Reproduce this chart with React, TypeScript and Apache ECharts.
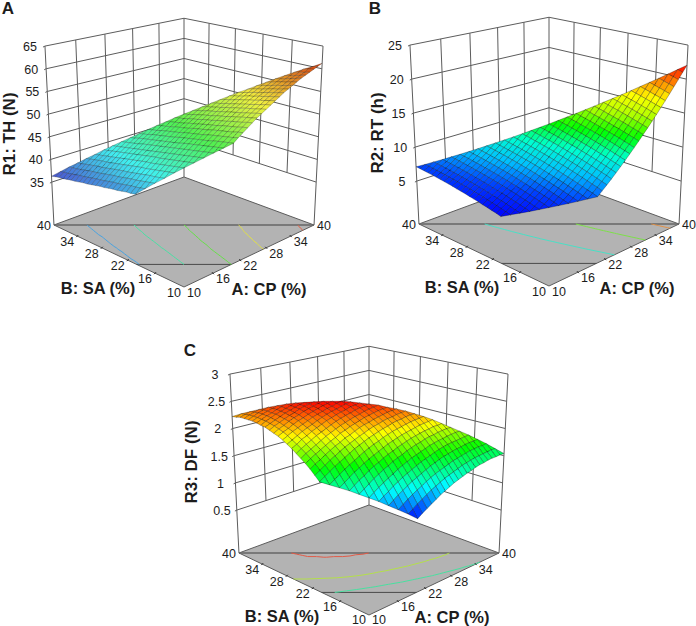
import React, { useEffect, useRef } from "react";
import * as echarts from "echarts";

const gridStep = 1;
const sideTicks = [10, 16, 22, 28, 34, 40];
const thTicks = [35, 40, 45, 50, 55, 60, 65];
const rtTicks = [5, 10, 15, 20, 25];
const dfTicks = [0.5, 1, 1.5, 2, 2.5, 3];
const thLevels = [40, 45, 50, 55, 60];
const rtLevels = [10, 15, 20];
const dfLevels = [1.5, 2, 2.45];
const vividPalette = ["#0000ff", "#00ffff", "#00ff00", "#ffff00", "#ff0000"];
const mutedPalette = ["#4a50d0", "#40f0f0", "#50f050", "#f0f040", "#d84010"];
const rtPalette = ["#0000ff", "#0040ff", "#00c0ff", "#00ffd0", "#00ff00", "#aaff00", "#ffff00", "#ff8000", "#ff0000"];

// each row: B fixed (10,11,...,40), A runs from max(10, 30-B) to 50-B
const thRows = [
  [50.0,50.8,51.5,52.2,52.9,53.6,54.2,54.8,55.4,56.0,56.6,57.2,57.7,58.2,58.7,59.2,59.6,60.0,60.4,60.8,61.2],
  [49.0,49.8,50.5,51.3,52.0,52.7,53.3,54.0,54.6,55.2,55.8,56.3,56.9,57.4,57.9,58.4,58.9,59.3,59.7,60.2,60.5],
  [48.0,48.8,49.6,50.3,51.0,51.7,52.4,53.1,53.7,54.3,54.9,55.5,56.1,56.6,57.1,57.6,58.1,58.6,59.0,59.5,59.9],
  [47.0,47.8,48.6,49.4,50.1,50.8,51.5,52.2,52.9,53.5,54.1,54.7,55.3,55.8,56.4,56.9,57.4,57.9,58.3,58.7,59.2],
  [46.0,46.8,47.6,48.4,49.2,49.9,50.6,51.3,52.0,52.6,53.2,53.9,54.4,55.0,55.6,56.1,56.6,57.1,57.6,58.0,58.5],
  [45.0,45.8,46.6,47.4,48.2,48.9,49.7,50.4,51.1,51.7,52.4,53.0,53.6,54.2,54.8,55.3,55.8,56.3,56.8,57.3,57.8],
  [44.0,44.8,45.6,46.4,47.2,48.0,48.7,49.5,50.2,50.8,51.5,52.1,52.8,53.4,53.9,54.5,55.1,55.6,56.1,56.6,57.0],
  [42.9,43.8,44.6,45.4,46.2,47.0,47.8,48.5,49.2,49.9,50.6,51.3,51.9,52.5,53.1,53.7,54.3,54.8,55.3,55.8,56.3],
  [41.9,42.7,43.6,44.4,45.2,46.0,46.8,47.6,48.3,49.0,49.7,50.4,51.0,51.7,52.3,52.9,53.4,54.0,54.5,55.0,55.5],
  [40.8,41.7,42.5,43.4,44.2,45.0,45.8,46.6,47.4,48.1,48.8,49.5,50.2,50.8,51.4,52.0,52.6,53.2,53.7,54.3,54.8],
  [39.7,40.6,41.5,42.4,43.2,44.0,44.8,45.6,46.4,47.1,47.9,48.6,49.3,49.9,50.6,51.2,51.8,52.4,52.9,53.5,54.0],
  [39.5,40.4,41.3,42.2,43.0,43.8,44.6,45.4,46.2,46.9,47.7,48.4,49.0,49.7,50.3,51.0,51.6,52.1,52.7,53.2],
  [39.4,40.3,41.1,42.0,42.8,43.6,44.5,45.2,46.0,46.7,47.4,48.1,48.8,49.5,50.1,50.7,51.3,51.9,52.4],
  [39.2,40.1,41.0,41.8,42.7,43.5,44.3,45.0,45.8,46.5,47.2,47.9,48.6,49.2,49.9,50.5,51.1,51.6],
  [39.0,39.9,40.8,41.6,42.5,43.3,44.1,44.8,45.6,46.3,47.0,47.7,48.4,49.0,49.6,50.2,50.8],
  [38.9,39.7,40.6,41.4,42.3,43.1,43.9,44.6,45.4,46.1,46.8,47.5,48.1,48.8,49.4,50.0],
  [38.7,39.6,40.4,41.3,42.1,42.9,43.7,44.4,45.2,45.9,46.6,47.3,47.9,48.6,49.2],
  [38.5,39.4,40.3,41.1,41.9,42.7,43.5,44.2,45.0,45.7,46.4,47.0,47.7,48.3],
  [38.4,39.2,40.1,40.9,41.7,42.5,43.3,44.0,44.7,45.5,46.1,46.8,47.5],
  [38.2,39.0,39.9,40.7,41.5,42.3,43.1,43.8,44.5,45.3,45.9,46.6],
  [38.0,38.9,39.7,40.5,41.3,42.1,42.9,43.6,44.3,45.0,45.7],
  [37.8,38.7,39.5,40.3,41.1,41.9,42.7,43.4,44.1,44.8],
  [37.7,38.5,39.4,40.2,41.0,41.7,42.5,43.2,43.9],
  [37.5,38.3,39.2,40.0,40.8,41.5,42.3,43.0],
  [37.3,38.2,39.0,39.8,40.6,41.3,42.1],
  [37.2,38.0,38.8,39.6,40.4,41.1],
  [37.0,37.8,38.6,39.4,40.2],
  [36.8,37.6,38.5,39.2],
  [36.7,37.5,38.3],
  [36.5,37.3],
  [36.3],
];
const rtRows = [
  [7.66,8.21,8.77,9.35,9.95,10.57,11.21,11.87,12.53,13.23,13.94,14.67,15.42,16.17,16.96,17.76,18.58,19.42,20.27,21.15,22.04],
  [7.36,7.89,8.43,8.99,9.58,10.18,10.8,11.44,12.1,12.77,13.47,14.18,14.9,15.65,16.41,17.2,18.0,18.82,19.66,20.52,21.4],
  [7.04,7.55,8.08,8.64,9.2,9.79,10.39,11.01,11.65,12.31,12.98,13.68,14.4,15.13,15.88,16.64,17.43,18.23,19.05,19.89,20.75],
  [6.75,7.26,7.77,8.3,8.85,9.41,10.0,10.61,11.23,11.87,12.53,13.21,13.91,14.62,15.35,16.1,16.87,17.66,18.46,19.28,20.12],
  [6.47,6.95,7.45,7.97,8.5,9.05,9.62,10.21,10.82,11.44,12.08,12.75,13.42,14.13,14.84,15.57,16.33,17.09,17.89,18.69,19.51],
  [6.2,6.67,7.14,7.65,8.16,8.7,9.25,9.82,10.41,11.02,11.64,12.29,12.95,13.63,14.33,15.05,15.78,16.54,17.3,18.1,18.9],
  [5.94,6.39,6.86,7.33,7.84,8.35,8.89,9.45,10.01,10.61,11.21,11.84,12.49,13.15,13.83,14.53,15.25,15.99,16.74,17.51,18.3],
  [5.68,6.11,6.56,7.03,7.51,8.01,8.53,9.07,9.63,10.2,10.79,11.4,12.03,12.68,13.35,14.03,14.73,15.45,16.19,16.95,17.71],
  [5.45,5.86,6.29,6.74,7.21,7.69,8.2,8.72,9.26,9.81,10.38,10.98,11.59,12.22,12.87,13.54,14.22,14.93,15.65,16.38,17.14],
  [5.22,5.61,6.02,6.45,6.9,7.37,7.85,8.36,8.88,9.43,9.99,10.56,11.16,11.77,12.4,13.05,13.72,14.4,15.11,15.84,16.58],
  [5.0,5.38,5.77,6.19,6.62,7.07,7.54,8.02,8.54,9.06,9.6,10.16,10.73,11.34,11.95,12.58,13.23,13.9,14.59,15.3,16.02],
  [5.17,5.55,5.94,6.35,6.79,7.24,7.71,8.2,8.71,9.23,9.78,10.34,10.91,11.51,12.13,12.76,13.41,14.09,14.77,15.48],
  [5.31,5.69,6.09,6.5,6.93,7.39,7.86,8.35,8.87,9.39,9.94,10.5,11.08,11.68,12.3,12.93,13.59,14.26,14.95],
  [5.45,5.83,6.23,6.65,7.08,7.54,8.02,8.5,9.02,9.55,10.09,10.65,11.23,11.84,12.45,13.09,13.75,14.42],
  [5.58,5.97,6.37,6.78,7.22,7.68,8.16,8.65,9.16,9.69,10.24,10.81,11.39,11.99,12.61,13.25,13.91],
  [5.72,6.11,6.5,6.92,7.36,7.82,8.3,8.79,9.31,9.84,10.38,10.95,11.53,12.14,12.76,13.4],
  [5.85,6.24,6.64,7.06,7.5,7.96,8.44,8.93,9.45,9.98,10.53,11.1,11.68,12.29,12.91],
  [5.96,6.35,6.75,7.18,7.62,8.08,8.56,9.06,9.58,10.11,10.66,11.23,11.82,12.43],
  [6.09,6.48,6.88,7.3,7.75,8.21,8.69,9.19,9.71,10.24,10.79,11.37,11.95],
  [6.19,6.58,6.99,7.41,7.86,8.32,8.8,9.3,9.83,10.36,10.91,11.49],
  [6.3,6.69,7.1,7.53,7.97,8.44,8.93,9.42,9.95,10.48,11.04],
  [6.42,6.81,7.22,7.65,8.09,8.56,9.05,9.54,10.07,10.61],
  [6.51,6.9,7.31,7.74,8.19,8.66,9.15,9.65,10.18],
  [6.6,6.99,7.41,7.84,8.29,8.76,9.25,9.75],
  [6.68,7.08,7.49,7.93,8.38,8.85,9.34],
  [6.77,7.17,7.58,8.01,8.47,8.94],
  [6.85,7.25,7.67,8.1,8.56],
  [6.91,7.32,7.73,8.17],
  [6.98,7.39,7.81],
  [7.05,7.44],
  [7.1],
];
const dfRows = [
  [0.95,1.01,1.06,1.11,1.16,1.21,1.25,1.29,1.33,1.36,1.39,1.42,1.44,1.47,1.49,1.5,1.52,1.53,1.53,1.54,1.54],
  [1.03,1.08,1.14,1.19,1.24,1.29,1.33,1.37,1.41,1.44,1.47,1.5,1.53,1.55,1.57,1.59,1.6,1.61,1.62,1.63,1.63],
  [1.1,1.16,1.22,1.27,1.32,1.36,1.41,1.45,1.49,1.52,1.55,1.58,1.61,1.63,1.65,1.67,1.69,1.7,1.71,1.71,1.72],
  [1.17,1.23,1.29,1.34,1.39,1.44,1.48,1.52,1.56,1.6,1.63,1.66,1.69,1.71,1.73,1.75,1.76,1.78,1.79,1.79,1.8],
  [1.24,1.3,1.35,1.41,1.46,1.51,1.55,1.59,1.63,1.67,1.7,1.73,1.76,1.79,1.81,1.83,1.84,1.85,1.86,1.87,1.88],
  [1.3,1.36,1.42,1.47,1.52,1.57,1.62,1.66,1.7,1.74,1.77,1.8,1.83,1.86,1.88,1.9,1.91,1.93,1.94,1.95,1.95],
  [1.36,1.42,1.48,1.54,1.59,1.64,1.68,1.73,1.77,1.8,1.84,1.87,1.9,1.92,1.95,1.97,1.98,2.0,2.01,2.02,2.02],
  [1.42,1.48,1.54,1.59,1.65,1.7,1.74,1.79,1.83,1.86,1.9,1.93,1.96,1.99,2.01,2.03,2.05,2.06,2.08,2.08,2.09],
  [1.47,1.53,1.59,1.65,1.7,1.75,1.8,1.84,1.88,1.92,1.96,1.99,2.02,2.05,2.07,2.09,2.11,2.13,2.14,2.15,2.16],
  [1.52,1.58,1.64,1.7,1.75,1.8,1.85,1.9,1.94,1.98,2.01,2.05,2.08,2.11,2.13,2.15,2.17,2.19,2.2,2.21,2.22],
  [1.57,1.63,1.69,1.75,1.8,1.85,1.9,1.95,1.99,2.03,2.07,2.1,2.13,2.16,2.18,2.21,2.23,2.24,2.26,2.27,2.27],
  [1.65,1.71,1.77,1.83,1.88,1.93,1.98,2.02,2.06,2.1,2.13,2.17,2.2,2.22,2.25,2.27,2.28,2.3,2.31,2.32],
  [1.73,1.79,1.84,1.9,1.95,2.0,2.04,2.09,2.12,2.16,2.2,2.23,2.25,2.28,2.3,2.32,2.34,2.35,2.36],
  [1.8,1.86,1.91,1.96,2.01,2.06,2.1,2.15,2.18,2.22,2.25,2.28,2.31,2.33,2.35,2.37,2.38,2.39],
  [1.86,1.92,1.97,2.02,2.07,2.12,2.16,2.2,2.24,2.27,2.3,2.33,2.35,2.38,2.4,2.41,2.43],
  [1.92,1.98,2.03,2.08,2.13,2.17,2.21,2.25,2.29,2.32,2.35,2.37,2.4,2.42,2.44,2.45],
  [1.98,2.03,2.09,2.13,2.18,2.22,2.26,2.3,2.33,2.36,2.39,2.41,2.44,2.45,2.47],
  [2.03,2.08,2.13,2.18,2.22,2.26,2.3,2.34,2.37,2.4,2.42,2.45,2.47,2.49],
  [2.08,2.13,2.18,2.22,2.26,2.3,2.34,2.37,2.4,2.43,2.45,2.48,2.5],
  [2.12,2.17,2.21,2.26,2.3,2.33,2.37,2.4,2.43,2.46,2.48,2.5],
  [2.15,2.2,2.24,2.29,2.33,2.36,2.4,2.43,2.45,2.48,2.5],
  [2.18,2.23,2.27,2.31,2.35,2.38,2.42,2.45,2.47,2.49],
  [2.21,2.25,2.29,2.33,2.37,2.4,2.43,2.46,2.48],
  [2.22,2.27,2.31,2.35,2.38,2.41,2.44,2.47],
  [2.24,2.28,2.32,2.35,2.39,2.42,2.45],
  [2.25,2.29,2.33,2.36,2.39,2.42],
  [2.25,2.29,2.33,2.36,2.39],
  [2.25,2.29,2.32,2.35],
  [2.25,2.28,2.31],
  [2.23,2.27],
  [2.22],
];

const font = "Liberation Sans, Arial, sans-serif";

type Panel = {
  letter: string; lx: number; ly: number; cx: number; oy: number; rows: number[][]; ticks: number[];
  levels: number[]; title: string; palette: string[]; titleX: number; bX: number; aX: number; frontDy: number; mesh: string;
};

const panels: Panel[] = [
  { letter: "A", lx: 8, ly: 8, cx: 184, oy: 0, rows: thRows, ticks: thTicks, levels: thLevels, title: "R1: TH (N)", palette: mutedPalette, titleX: -175, bX: -86, aX: 85, frontDy: 6, mesh: "rgba(0,0,0,0.42)" },
  { letter: "B", lx: 375, ly: 8, cx: 549, oy: -1, rows: rtRows, ticks: rtTicks, levels: rtLevels, title: "R2: RT (h)", palette: rtPalette, titleX: -172, bX: -87, aX: 88, frontDy: 6, mesh: "rgba(0,0,0,0.55)" },
  { letter: "C", lx: 190, ly: 350, cx: 369, oy: 328, rows: dfRows, ticks: dfTicks, levels: dfLevels, title: "R3: DF (N)", palette: vividPalette, titleX: -178, bX: -87, aX: 83, frontDy: 4.5, mesh: "rgba(0,0,0,0.55)" },
];

function val(p: Panel, A: number, B: number): number | undefined {
  const r = p.rows[(B - 10) / gridStep];
  if (!r) return undefined;
  const start = Math.max(10, 30 - B);
  return r[(A - start) / gridStep];
}

function project(p: Panel, A: number, B: number, w: number): [number, number] {
  const a = (A - 10) / 30, b = (B - 10) / 30, s = a + b;
  const d = 1 + 0.1458 * s;
  return [p.cx + (149 * (a - b)) / (d - 0.074 * w), p.oy + (287 - 29.2 * s) / d - (205 * w) / d];
}

function wOf(p: Panel, z: number) {
  const lo = p.ticks[0], hi = p.ticks[p.ticks.length - 1];
  return 0.24 + ((z - lo) / (hi - lo)) * 0.76;
}

function extent(p: Panel) {
  const all = p.rows.flat();
  return [Math.min(...all), Math.max(...all)];
}

function line(a: number[], b: number[], stroke: string, lineWidth: number) {
  return { type: "line", silent: true, shape: { x1: a[0], y1: a[1], x2: b[0], y2: b[1] }, style: { stroke, lineWidth } };
}
function text(t: string, x: number, y: number, fnt: string, extra: any = {}) {
  return {
    type: "text", silent: true, x, y, ...extra,
    style: { text: t, font: fnt, fill: "#1c1c1c", align: "center", verticalAlign: "middle", textAlign: "center", textVerticalAlign: "middle" },
  };
}

function contourSegs(p: Panel, rawLevel: number) {
  const level = rawLevel + 0.0007;
  const segs: number[][][] = [];
  const tri = (pts: number[][]) => {
    const hit: number[][] = [];
    for (let i = 0; i < 3; i++) {
      const q = pts[i], r = pts[(i + 1) % 3];
      if ((q[2] - level) * (r[2] - level) < 0) {
        const t = (level - q[2]) / (r[2] - q[2]);
        hit.push([q[0] + t * (r[0] - q[0]), q[1] + t * (r[1] - q[1])]);
      }
    }
    if (hit.length === 2) segs.push(hit);
  };
  for (let B = 10; B < 40; B += gridStep)
    for (let A = 10; A < 40; A += gridStep) {
      const c = [[A, B], [A + gridStep, B], [A + gridStep, B + gridStep], [A, B + gridStep]]
        .map(([x, y]) => [x, y, val(p, x, y) as number]);
      const ok = c.map((q) => q[2] !== undefined);
      if (ok[1] && ok[3]) {
        if (ok[0]) tri([c[0], c[1], c[3]]);
        if (ok[2]) tri([c[1], c[2], c[3]]);
      }
    }
  return segs;
}

function frame(p: Panel) {
  const els: any[] = [];
  const grid = "#5c5c5c";
  const lo = p.ticks[0];
  const hi = p.ticks[p.ticks.length - 1];
  const P = (A: number, B: number, z: number) => project(p, A, B, wOf(p, z));
  const F = (A: number, B: number) => project(p, A, B, 0);
  els.push({ type: "polygon", silent: true, shape: { points: [F(10, 10), F(40, 10), F(40, 40), F(10, 40)] }, style: { fill: "#b3b3b3", stroke: grid, lineWidth: 1 } });
  for (const z of p.ticks) {
    els.push({ type: "polyline", silent: true, shape: { points: [P(10, 40, z), P(40, 40, z), P(40, 10, z)] }, style: { fill: "none", stroke: grid, lineWidth: 1 } });
    const t = P(10, 40, z);
    els.push(line([t[0] - 2, t[1] + 1], t, grid, 1));
    els.push(text(String(z), t[0] - 15, t[1] + 1, `12.5px ${font}`));
  }
  for (const v of sideTicks.slice(1, -1)) {
    els.push(line(P(v, 40, lo), P(v, 40, hi), grid, 1));
    els.push(line(P(40, v, lo), P(40, v, hi), grid, 1));
  }
  els.push(line(F(10, 40), P(10, 40, hi), grid, 1));
  els.push(line(F(40, 40), P(40, 40, hi), grid, 1));
  els.push(line(F(40, 10), P(40, 10, hi), grid, 1));
  els.push(line(F(10, 40), F(40, 10), "#666666", 1.5));
  els.push(line(F(20, 10), F(10, 20), "#4a4a4a", 1));
  const [mn, mx] = extent(p);
  p.levels.forEach((lv) => {
    const c = echarts.color.lerp((lv - mn) / (mx - mn), vividPalette);
    const col = echarts.color.lerp(0.4, [c, "#b3b3b3"]);
    for (const s of contourSegs(p, lv)) {
      els.push(line(F(s[0][0], s[0][1]), F(s[1][0], s[1][1]), col, 1));
    }
  });
  for (const v of sideTicks) {
    const b = F(10, v), a = F(v, 10);
    if (v > 10 && v < 40) {
      els.push(line([b[0] - 1, b[1] + 1], [b[0] + 1, b[1] - 1], "#222", 1));
      els.push(line([a[0] - 1, a[1] - 1], [a[0] + 1, a[1] + 1], "#222", 1));
    }
    const dy = v === 40 ? 1 : v === 10 ? p.frontDy : 6;
    els.push(text(String(v), b[0] - 10, b[1] + dy, `12.5px ${font}`));
    els.push(text(String(v), a[0] + 10, a[1] + dy, `12.5px ${font}`));
  }
  const bold = `bold 16.5px ${font}`;
  els.push(text("B: SA (%)", p.cx + p.bX, p.oy + 288, bold));
  els.push(text("A: CP (%)", p.cx + p.aX, p.oy + 289, bold));
  els.push(text(p.title, p.cx + p.titleX, p.oy + 134, `bold 17px ${font}`, { rotation: Math.PI / 2 }));
  els.push(text(p.letter, p.lx, p.ly, `bold 17px ${font}`));
  return els;
}

function surfaceSeries(p: Panel) {
  const [mn, mx] = extent(p);
  const cells: { pts: number[][]; fill: string; depth: number }[] = [];
  for (let B = 10; B < 40; B += gridStep)
    for (let A = 10; A < 40; A += gridStep) {
      const corners = [[A, B], [A + gridStep, B], [A + gridStep, B + gridStep], [A, B + gridStep]]
        .map(([x, y]) => [x, y, val(p, x, y) as number])
        .filter((q) => q[2] !== undefined);
      if (corners.length < 3) continue;
      const avg = corners.reduce((t, q) => t + q[2], 0) / corners.length;
      cells.push({
        pts: corners.map((q) => project(p, q[0], q[1], wOf(p, q[2]))),
        fill: echarts.color.lerp((avg - mn) / (mx - mn), p.palette),
        depth: A + B,
      });
    }
  cells.sort((x, y) => y.depth - x.depth);
  return {
    type: "custom", coordinateSystem: "none", silent: true, clip: false,
    data: cells.map((_, i) => [i]),
    renderItem: (params: any) => {
      const c = cells[params.dataIndex];
      return { type: "polygon", shape: { points: c.pts }, style: { fill: c.fill, stroke: p.mesh, lineWidth: 0.5 } };
    },
  };
}

export default function App() {
  const ref = useRef<HTMLDivElement>(null);
  useEffect(() => {
    document.body.style.margin = "0";
    const chart = echarts.init(ref.current as HTMLDivElement, undefined, { renderer: "svg" });
    chart.setOption({
      animation: false,
      backgroundColor: "#ffffff",
      graphic: { elements: panels.flatMap(frame) },
      series: panels.map(surfaceSeries),
    });
    return () => chart.dispose();
  }, []);
  return <div ref={ref} style={{ width: 696, height: 626 }} />;
}
